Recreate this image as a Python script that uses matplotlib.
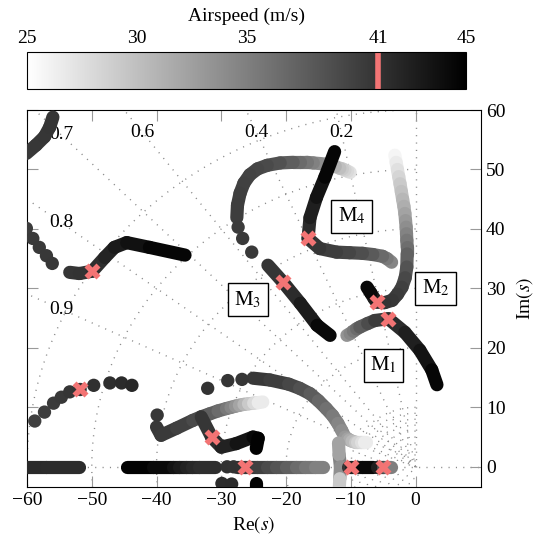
import numpy as np
import matplotlib
matplotlib.use("Agg")
import matplotlib.pyplot as plt
from matplotlib.collections import LineCollection
from matplotlib.colors import Normalize
from matplotlib.colorbar import ColorbarBase

plt.rcParams['font.family'] = ['Liberation Serif', 'DejaVu Serif']
plt.rcParams['mathtext.fontset'] = 'stix'
plt.rcParams['font.size'] = 14

# ---- pole tracks (real part, imaginary part, airspeed m/s) ----
# mode 4
m4_re = [-3.7, -4.4, -5.1, -6.6, -8.2, -10.2, -12.2, -14.8, -16.6, -16.3, -15.3, -14.0, -12.5]
m4_im = [34.4, 35.0, 35.4, 35.7, 35.9, 36.0, 36.1, 36.7, 38.4, 41.9, 45.3, 48.7, 53.0]
m4_v = [34.0, 35.0, 36.0, 37.3, 38.5, 39.3, 39.8, 40.5, 41.0, 42.0, 43.0, 44.0, 45.0]

# mode 3, upper arc then lower part
m3a_re = [-10.1, -10.5, -10.9, -11.3, -11.7, -12.4, -13.2, -14.0, -14.8, -15.8, -16.8, -17.8,
          -18.9, -20.9, -22.9, -24.4, -25.6, -26.5, -27.1, -27.5, -27.6]
m3a_im = [49.5, 49.7, 49.9, 50.1, 50.2, 50.5, 50.7, 50.9, 51.0, 51.1, 51.2, 51.2,
          51.2, 51.1, 50.7, 50.1, 49.1, 47.7, 46.0, 44.0, 41.9]
m3a_v = [27.0, 27.6, 28.2, 28.9, 29.5, 30.5, 31.5, 32.5, 33.5, 34.4, 35.3, 36.2,
         37.0, 38.2, 39.0, 39.4, 39.6, 39.8, 40.0, 40.1, 40.2]
m3b_re = [-22.8, -20.5, -17.8, -15.2, -13.2]
m3b_im = [33.9, 31.1, 27.5, 23.8, 22.1]
m3b_v = [40.6, 41.0, 42.0, 43.5, 45.0]

# mode 2
m2_re = [-3.2, -3.0, -2.8, -2.6, -2.4, -2.2, -2.0, -1.8, -1.65, -1.55, -1.45, -1.4, -1.35,
         -1.3, -1.3, -1.35, -1.6, -2.1, -2.8, -3.6, -4.8, -6.0, -6.4, -6.9, -7.5]
m2_im = [52.4, 51.2, 50.0, 48.8, 47.6, 46.3, 45.0, 43.8, 42.6, 41.4, 40.3, 39.2, 38.1,
         37.0, 35.8, 33.6, 31.8, 30.2, 29.0, 28.0, 27.6, 27.7, 28.3, 29.2, 30.2]
m2_v = [25.5, 26.2, 27.0, 27.9, 28.8, 29.5, 30.3, 31.0, 31.8, 32.6, 33.5, 34.3, 35.2,
        36.0, 36.7, 38.0, 39.0, 39.7, 40.2, 40.5, 40.8, 41.0, 42.0, 43.5, 45.0]

# mode 1
m1_re = [-10.6, -10.1, -9.6, -9.1, -8.6, -7.4, -6.3, -4.2, -1.65, 0.66, 2.5, 3.3]
m1_im = [22.1, 22.4, 22.8, 23.2, 23.5, 24.1, 24.6, 24.9, 22.6, 19.6, 16.3, 13.8]
m1_v = [33.0, 34.0, 35.0, 36.0, 37.0, 38.5, 39.5, 41.0, 42.0, 43.0, 44.0, 45.0]

# high damping branch near zeta 0.8
hd_re = [-53.4, -51.9, -49.9, -48.0, -46.5, -44.6, -41.1, -35.6]
hd_im = [32.7, 32.5, 32.9, 35.2, 36.9, 37.7, 36.9, 35.6]
hd_v = [40.8, 40.9, 41.0, 41.8, 42.5, 43.2, 44.0, 45.0]

# top-left corner arc
tl_re = [-60.1, -58.6, -57.3, -56.5, -56.0]
tl_im = [52.7, 54.1, 55.5, 57.1, 58.8]
tl_v = [40.5, 40.6, 40.7, 40.8, 40.9]

# low frequency arc running into the light blob near -10
lf_re = [-25.1, -22.5, -19.6, -17.9, -16.3, -15.0, -13.8, -12.8, -12.0, -11.4, -10.9,
         -10.5, -10.2, -9.8, -9.4, -9.0, -8.5, -8.0, -7.6]
lf_im = [14.9, 14.6, 13.9, 13.2, 12.3, 11.1, 9.8, 8.6, 7.3, 6.1, 5.0,
         4.7, 4.5, 4.3, 4.2, 4.2, 4.2, 4.2, 4.2]
lf_v = [40.7, 40.4, 39.8, 39.0, 38.2, 37.4, 36.5, 35.7, 35.0, 34.2, 33.5,
        32.7, 32.0, 31.0, 30.0, 29.0, 28.0, 27.0, 26.0]

# branch starting near -40 and fading to the right
lc_re = [-40.0, -39.3, -36.9, -34.4, -33.1, -31.8, -30.5, -29.2, -28.5, -27.8, -27.2,
         -26.5, -25.8, -25.0, -24.3, -23.6]
lc_im = [6.7, 5.3, 6.5, 7.8, 8.4, 8.9, 9.4, 9.8, 10.0, 10.2, 10.35,
         10.5, 10.6, 10.7, 10.8, 10.9]
lc_v = [40.6, 40.5, 40.3, 39.5, 38.8, 38.0, 37.0, 36.0, 35.0, 34.0, 32.8,
        31.5, 30.0, 28.5, 27.2, 26.0]

# short branch crossing zeta 0.9 ray near -31
ld_re = [-33.1, -31.5, -30.0, -27.7, -25.1, -24.3, -24.6]
ld_im = [8.4, 5.0, 3.3, 3.9, 5.0, 4.8, 3.1]
ld_v = [40.5, 41.0, 41.8, 42.8, 44.0, 44.6, 45.0]
ld_low_re = [-24.6, -24.6]
ld_low_im = [-2.7, -4.5]
ld_low_v = [44.5, 45.0]

# real axis branches
ra1_re = [-62.0, -57.0, -51.9]
ra1_v = [41.7, 41.6, 41.5]
ra2_re = [-44.5, -40.5, -37.5, -36.5, -35.5, -34.5, -33.5, -31.0]
ra2_v = [45.0, 44.6, 43.8, 43.2, 42.5, 42.0, 41.5, 41.2]
ra3_re = [-27.5, -26.4, -24.5, -23.0, -21.5, -20.0, -18.5, -17.0, -15.6, -14.3]
ra3_v = [41.2, 41.0, 40.2, 39.5, 38.7, 37.9, 37.0, 36.1, 35.3, 34.5]
ra4_re = [-10.5, -9.9, -8.3, -6.5]
ra4_v = [40.5, 41.0, 43.5, 45.0]
ra5_re = [-5.9, -5.0, -4.4, -3.8]
ra5_v = [44.0, 41.0, 37.0, 33.0]

# light pair leaving the real axis near -12
vp_re = [-11.6, -11.8, -11.9]
vp_im = [0.0, 2.0, 4.0]
vp_v = [36.0, 33.5, 31.0]
vn_re = [-11.6, -11.7, -11.8]
vn_im = [0.0, -2.0, -4.0]
vn_v = [36.0, 31.5, 27.0]

# isolated samples where the poles move quickly
dot_re = [-60.1, -59.1, -58.1, -57.0, -56.1,
          -58.8, -57.3, -55.9, -54.7, -53.4, -51.8, -49.7, -47.2, -45.4, -43.8,
          -27.4, -26.7, -25.3,
          -32.1, -29.0, -26.8,
          -39.9,
          -29.9, -28.4,
          -29.1, -28.1]
dot_im = [40.1, 38.4, 36.9, 35.5, 34.2,
          7.7, 9.2, 10.7, 11.7, 12.6, 13.0, 13.7, 14.1, 14.1, 13.7,
          40.3, 38.4, 36.1,
          13.2, 14.5, 14.7,
          8.7,
          -2.8, -2.9,
          0.0, 0.0]
dot_v = [40.3, 40.4, 40.5, 40.6, 40.7,
         40.0, 40.2, 40.4, 40.6, 40.8, 41.0, 41.2, 41.4, 41.6, 41.8,
         40.3, 40.4, 40.5,
         40.95, 40.85, 40.75,
         40.7,
         41.5, 41.6,
         41.1, 41.05]

# poles at the design airspeed
v_design = 41
x41_re = [-49.9, -51.8, -31.5, -26.4, -20.5, -16.6, -6.0, -4.2, -9.9, -5.0]
x41_im = [32.9, 13.0, 5.0, 0.0, 31.1, 38.4, 27.7, 24.9, 0.0, 0.0]

# mode labels
mode_names = ['M$_1$', 'M$_2$', 'M$_3$', 'M$_4$']
mode_re = [-5.0, 3.1, -25.9, -9.9]
mode_im = [17.1, 30.0, 28.1, 42.1]

zetas = [0.2, 0.4, 0.6, 0.7, 0.8, 0.9]
wn_rings = [1, 2, 3, 4, 5, 6, 7, 8, 9, 10, 20, 30, 40, 50, 60]

red = '#f37474'
cmap = plt.get_cmap('gray_r')
norm = Normalize(25, 45)
lw_track = 9.5


def draw_track(ax, re, im, v):
    pts = np.column_stack([re, im])
    segs = np.stack([pts[:-1], pts[1:]], axis=1)
    v = np.asarray(v)
    lc = LineCollection(segs, cmap=cmap, norm=norm, linewidths=lw_track,
                        capstyle='round', joinstyle='round', zorder=3)
    lc.set_array((v[:-1] + v[1:]) / 2)
    ax.add_collection(lc)


fig = plt.figure(figsize=(5.4, 5.5), dpi=100)
ax = fig.add_axes([0.05, 0.1145, 0.8407, 0.6855])
cax = fig.add_axes([0.05, 0.838, 0.813, 0.067])

# s-plane grid
grid_kw = dict(color='#8a8a8a', lw=1.0, ls=(0, (0.8, 4.5)), zorder=1)
for z in zetas:
    s = np.sqrt(1 - z**2)
    ax.plot([0, -z * 120], [0, s * 120], **grid_kw)
    r = min(56.2 / s, 54.7 / z)
    ax.text(-z * r, s * r, f'{z:g}', ha='center', va='center', fontsize=14, zorder=2)
ax.plot([-70, 12], [0, 0], **grid_kw)
ax.plot([0, 0], [0, 70], **grid_kw)
th = np.linspace(np.pi / 2, 3 * np.pi / 2, 300)
for r in wn_rings:
    ax.plot(r * np.cos(th), r * np.sin(th), **grid_kw)

# pole tracks
for re, im, v in [(tl_re, tl_im, tl_v), (hd_re, hd_im, hd_v), (m3a_re, m3a_im, m3a_v),
                  (m3b_re, m3b_im, m3b_v), (m4_re, m4_im, m4_v), (m2_re, m2_im, m2_v),
                  (m1_re, m1_im, m1_v), (lf_re, lf_im, lf_v), (lc_re, lc_im, lc_v),
                  (vp_re, vp_im, vp_v), (vn_re, vn_im, vn_v),
                  (ld_re, ld_im, ld_v), (ld_low_re, ld_low_im, ld_low_v)]:
    draw_track(ax, re, im, v)
for re, v in [(ra1_re, ra1_v), (ra2_re, ra2_v), (ra3_re, ra3_v), (ra4_re, ra4_v), (ra5_re, ra5_v)]:
    draw_track(ax, re, np.zeros(len(re)), v)
ax.scatter(dot_re, dot_im, c=dot_v, cmap=cmap, norm=norm, s=92, lw=0, zorder=3)

ax.plot(x41_re, x41_im, ls='none', marker='X', ms=12, color=red, mec='none', zorder=5)

for name, x, y in zip(mode_names, mode_re, mode_im):
    ax.text(x, y, name, ha='center', va='center', fontsize=15, zorder=6,
            bbox=dict(boxstyle='square,pad=0.3', fc='white', ec='black', lw=1))

ax.set_xlim(-60, 10.1)
ax.set_ylim(-3.4, 60)
ax.set_xticks(range(-60, 1, 10))
ax.set_yticks(range(0, 61, 10))
ax.tick_params(direction='in', length=8, color='#999999', top=True, right=True,
               labelleft=False, labelright=True, labelsize=14)
ax.yaxis.set_label_position('right')
ax.set_xlabel('Re$(s)$', fontsize=14, labelpad=4)
ax.set_ylabel('Im$(s)$', fontsize=14, labelpad=6)

# airspeed colour bar
cb = ColorbarBase(cax, cmap=cmap, norm=norm, orientation='horizontal', ticks=[25, 30, 35, 41, 45])
cax.xaxis.set_ticks_position('top')
cax.xaxis.set_label_position('top')
cax.tick_params(length=0, labelsize=14, pad=4)
cax.set_xlabel('Airspeed (m/s)', fontsize=14, labelpad=6)
cax.axvline(v_design, color=red, lw=4)

fig.savefig('out.png', dpi=100)
